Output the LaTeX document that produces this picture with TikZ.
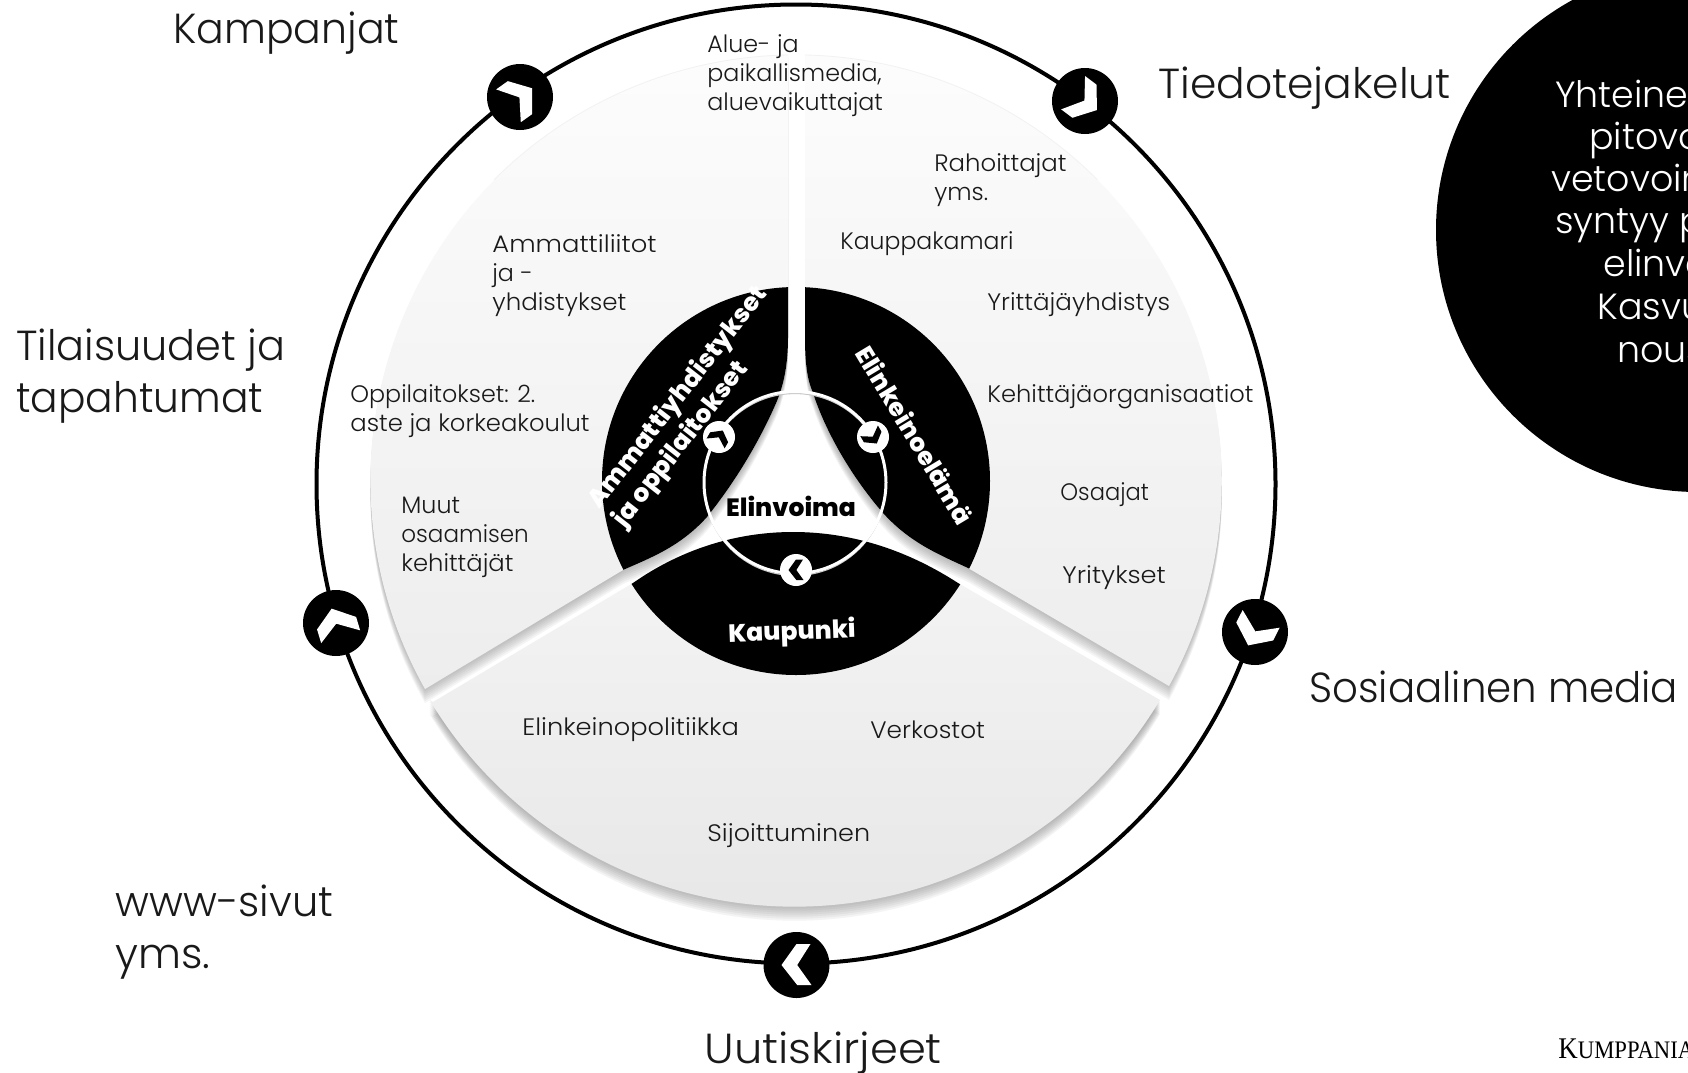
\documentclass[tikz,border=0pt]{standalone}
\usepackage{graphicx}
\usepackage{fontspec}
\setmainfont{Poppins Light}[BoldFont={Poppins ExtraBold}]
\newfontfamily\serifcaps{Liberation Serif}
\usetikzlibrary{calc}
\definecolor{shade}{HTML}{8C96A6}
\tikzset{
  bigtext/.style={anchor=west,align=left,font=\fontsize{21}{25.8}\selectfont,inner sep=0pt,text=black!90},
  smalltext/.style={anchor=west,align=left,font=\fontsize{11.9}{14.5}\selectfont,inner sep=0pt,text=black!90},
  cwtext/.style={anchor=base west,align=left,font=\fontsize{18.2}{21.2}\selectfont,inner sep=0pt,text=white},
  boldtext/.style={font=\bfseries\fontsize{12.5}{15.5}\selectfont,inner sep=0pt,text=white,align=left},
}
\newcommand{\sx}[2]{\scalebox{#1}[1]{#2}}
\begin{document}
\begin{tikzpicture}[x=0.5pt,y=-0.5pt]
\useasboundingbox (0,0) rectangle (1688,1072);
\begin{scope}
\clip (0,0) rectangle (1688,1072);
\fill[white] (0,0) rectangle (1688,1072);
\coordinate (c) at (796,481);
% outer ring
\draw[line width=2pt,black] (796,484) circle[radius=479.5];

% petal outlines
\def\petalL{(788,55) -- (788,337) .. controls (788,375) and (780,395) .. (773,410) .. controls (757,445) and (735,482) .. (707,517) .. controls (680,547) and (650,558) .. (623,570) -- (425,689) arc[start angle=150.7,end angle=269,radius=426] -- cycle}
\def\petalR{(805,55) -- (805,337) .. controls (805,375) and (810,385) .. (813,393) .. controls (825,430) and (850,475) .. (883,513) .. controls (910,543) and (940,555) .. (968,568) -- (1169,686) arc[start angle=28.8,end angle=-88.8,radius=426] -- cycle}
\def\petalB{(433,702) -- (633,583) .. controls (680,550) and (735,532) .. (793,532) .. controls (855,532) and (910,552) .. (958,583) -- (1160,700) arc[start angle=31,end angle=149,radius=426] -- cycle}

% soft shadows
\foreach \d in {2,4,...,14}{
  \begin{scope}[yshift=-\d*0.5pt]
   \fill[shade,opacity=0.04] \petalL;
   \fill[shade,opacity=0.04] \petalR;
   \fill[shade,opacity=0.04] \petalB;
  \end{scope}}

% grey petals
\shade[top color=white!99!black,middle color=white!97!black,bottom color=black!7] \petalL;
\shade[top color=white!99!black,middle color=white!97!black,bottom color=black!7] \petalR;
\shade[top color=black!4,bottom color=black!10] \petalB;
\draw[black!5,line width=0.4pt] (788,55) arc[start angle=269,end angle=225,radius=426];
\draw[black!5,line width=0.4pt] (805,55) arc[start angle=-88.8,end angle=-45,radius=426];

% inner black disc cut to petals
\begin{scope}
  \clip (c) circle[radius=194];
  \fill[black] \petalL;
  \fill[black] \petalR;
  \fill[black] \petalB;
\end{scope}

% inner ring
\draw[line width=0.6pt,black!22] (795,484.5) circle[radius=91];
\draw[line width=1.5pt,white] (795,482.5) circle[radius=91];

% big icons
\foreach \px/\py/\r in {520/97/-144.5,1085/101/-217,1255/632/-297,336/623/-73.2,796.5/965/0}{
  \fill[black] (\px,\py) circle[radius=33];
  \begin{scope}[shift={(\px,\py)},rotate=\r]
    \fill[white] (0,-21) -- (14,-21) -- (0.7,0) -- (15,20) -- (0.7,20) -- (-15,0) -- cycle;
  \end{scope}
}
% small icons
\foreach \px/\py/\r in {719/437/-120,873/437/-240,796/570/0}{
  \fill[white] (\px,\py) circle[radius=16];
  \begin{scope}[shift={(\px,\py)},rotate=\r,scale=0.5]
    \fill[black] (0,-21) -- (14,-21) -- (0.7,0) -- (15,20) -- (0.7,20) -- (-15,0) -- cycle;
  \end{scope}
}

% black circle on right
\fill[black] (1698,230) circle[radius=262];
\foreach \xx/\yy/\lbl in {1555/107/Yhteine,1589/149/pitovo,1551/191/vetovoin,1555/233/syntyy p,1603/276/elinvo,1597/319/Kasvu,1617/362/nous}{
  \node[cwtext] (bc\yy) at (\xx,\yy) {\lbl};
}

% big labels
\node[bigtext] (kamp) at (173,33) {\sx{.976}{Kampanjat}};
\node[bigtext] (tied) at (1158,88) {\sx{1.01}{Tiedotejakelut}};
\node[bigtext,anchor=north west] (tila) at (16,329) {\sx{.985}{Tilaisuudet ja}\\\sx{.97}{tapahtumat}};
\node[bigtext] (some) at (1309,687) {\sx{.96}{Sosiaalinen media}};
\node[bigtext,anchor=north west] (www) at (115,884.5) {\sx{.99}{www-sivut}\\yms.};
\node[bigtext] (uuti) at (704,1053) {\sx{1.068}{Uutiskirjeet}};

% small labels
\node[smalltext,anchor=north west] (alue) at (707,34.5) {Alue- ja\\paikallismedia,\\aluevaikuttajat};
\node[smalltext,anchor=north west] (raho) at (934,153) {\sx{1.025}{Rahoittajat}\\yms.};
\node[smalltext] (kaup) at (840,244) {\sx{.99}{Kauppakamari}};
\node[smalltext] (yrit) at (987,305) {\sx{1.03}{Yrittäjäyhdistys}};
\node[smalltext] (kehi) at (987,397) {\sx{1.016}{Kehittäjäorganisaatiot}};
\node[smalltext] (osaa) at (1060,495) {\sx{.95}{Osaajat}};
\node[smalltext] (yrks) at (1062,578) {\sx{1.08}{Yritykset}};
\node[smalltext,anchor=north west] (amma) at (492,234) {\sx{1.086}{Ammattiliitot}\\ja -\\\sx{1.03}{yhdistykset}};
\node[smalltext,anchor=north west] (oppi) at (350,384) {Oppilaitokset: 2.\\\sx{1.02}{aste ja korkeakoulut}};
\node[smalltext,anchor=north west] (muut) at (401,497) {Muut\\\sx{.97}{osaamisen}\\\sx{1.02}{kehittäjät}};
\node[smalltext] (elpo) at (522,730) {\sx{1.08}{Elinkeinopolitiikka}};
\node[smalltext] (verk) at (870,730) {\sx{1.04}{Verkostot}};
\node[smalltext] (sijo) at (707,836) {\sx{1.07}{Sijoittuminen}};

% bold labels
\node[boldtext,text=black] (elin) at (791,506) {Elinvoima};
\node[boldtext,rotate=2] (kpk) at (792,633) {Kaupunki};
\node[boldtext,rotate=-59] (elel) at (915,435) {Elinkeinoelämä};
\node[boldtext,rotate=52] (ammk) at (691,407) {Ammattiyhdistykset\\ja oppilaitokset};

% footer, running off the page
\node[anchor=base west,inner sep=0pt,font=\serifcaps\fontsize{15}{18}\selectfont,text=black] (kump) at (1558,1058) {\sx{.9}{K{\fontsize{12.6}{18}\selectfont UMPPANIA}}};
\end{scope}
\end{tikzpicture}
\end{document}
